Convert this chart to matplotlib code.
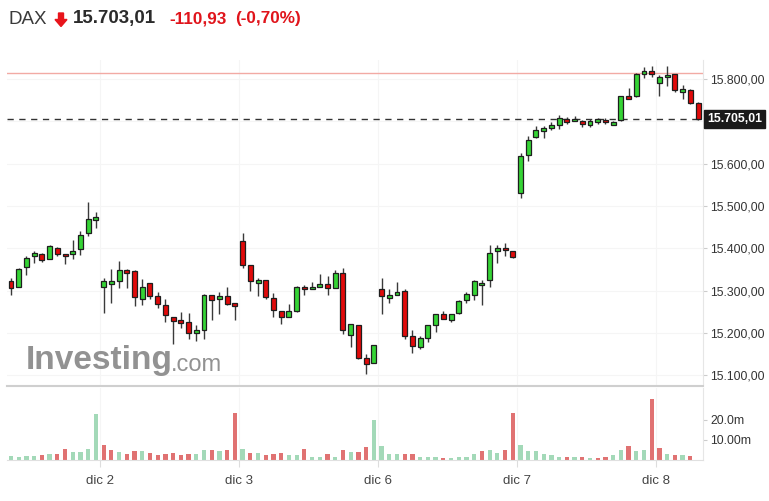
import matplotlib
matplotlib.use("Agg")
import matplotlib.pyplot as plt
from matplotlib.ticker import FuncFormatter, FixedLocator
from matplotlib.patches import Polygon

# ---------------- data (30-min candles, DAX) ----------------
opens = [15322, 15309, 15355, 15381, 15386, 15375, 15402, 15387, 15386, 15399, 15437, 15466,
         15310, 15315, 15322, 15349, 15346, 15281, 15319, 15287, 15267, 15237, 15231, 15227,
         15201, 15208, 15289, 15280, 15287, 15272,
         15417, 15360, 15319, 15325, 15284, 15251, 15238, 15251, 15310, 15304, 15309, 15316,
         15306, 15343, 15195, 15218, 15141, 15130,
         15303, 15282, 15289, 15299, 15194, 15167, 15188, 15220, 15245, 15232, 15247, 15277,
         15289, 15313, 15325, 15393, 15402, 15393,
         15531, 15620, 15662, 15677, 15685, 15691, 15706, 15700, 15701, 15691, 15698, 15703,
         15691, 15703, 15760, 15760, 15813, 15819,
         15791, 15804, 15811, 15769, 15774, 15744]
highs = [15329, 15353, 15381, 15393, 15390, 15409, 15403, 15387, 15421, 15440, 15509, 15486,
         15330, 15351, 15371, 15351, 15348, 15327, 15319, 15297, 15281, 15237, 15250, 15247,
         15218, 15293, 15291, 15297, 15309, 15272,
         15437, 15360, 15330, 15325, 15295, 15251, 15268, 15311, 15314, 15321, 15339, 15335,
         15348, 15354, 15222, 15218, 15150, 15171,
         15329, 15305, 15321, 15303, 15208, 15192, 15218, 15246, 15251, 15245, 15279, 15297,
         15325, 15326, 15407, 15407, 15413, 15395,
         15625, 15665, 15689, 15689, 15699, 15715, 15711, 15713, 15703, 15705, 15709, 15707,
         15700, 15760, 15779, 15815, 15829, 15831,
         15809, 15832, 15812, 15786, 15776, 15745]
lows = [15289, 15308, 15336, 15365, 15369, 15375, 15382, 15364, 15376, 15385, 15429, 15448,
        15248, 15272, 15306, 15306, 15263, 15266, 15280, 15259, 15225, 15175, 15211, 15187,
        15181, 15187, 15230, 15246, 15266, 15232,
        15354, 15299, 15288, 15281, 15237, 15222, 15238, 15250, 15289, 15304, 15309, 15291,
        15306, 15199, 15166, 15138, 15104, 15130,
        15246, 15272, 15289, 15186, 15152, 15162, 15180, 15203, 15233, 15227, 15246, 15270,
        15277, 15266, 15309, 15365, 15381, 15377,
        15518, 15607, 15660, 15660, 15680, 15682, 15695, 15700, 15686, 15687, 15694, 15695,
        15691, 15700, 15753, 15757, 15802, 15804,
        15761, 15783, 15770, 15754, 15741, 15703]
closes = [15306, 15352, 15378, 15388, 15372, 15405, 15387, 15381, 15393, 15432, 15470, 15473,
          15322, 15322, 15348, 15342, 15285, 15310, 15287, 15268, 15242, 15229, 15224, 15201,
          15207, 15290, 15277, 15287, 15269, 15265,
          15360, 15322, 15326, 15285, 15254, 15238, 15251, 15310, 15304, 15310, 15316, 15306,
          15343, 15207, 15222, 15142, 15126, 15171,
          15287, 15289, 15298, 15194, 15170, 15189, 15218, 15246, 15233, 15245, 15276, 15293,
          15322, 15319, 15388, 15401, 15396, 15380,
          15618, 15656, 15680, 15684, 15691, 15709, 15699, 15706, 15694, 15702, 15705, 15698,
          15698, 15760, 15753, 15813, 15819, 15812,
          15804, 15810, 15774, 15776, 15744, 15705]
volumes = [2.2, 1.4, 2.0, 2.0, 2.4, 2.9, 3.0, 5.4, 4.2, 3.9, 5.4, 22.8,
           7.6, 5.1, 4.2, 3.0, 4.4, 4.4, 3.7, 2.7, 3.0, 3.7, 2.5, 3.0, 3.0, 5.1, 5.1, 4.4, 5.1, 23.4,
           5.6, 3.7, 3.7, 2.5, 3.0, 3.7, 2.4, 2.4, 5.6, 1.7, 1.7, 3.0, 1.7, 5.1, 4.2, 4.2, 6.3, 19.8,
           6.8, 3.0, 3.0, 3.0, 3.0, 1.7, 1.7, 1.7, 1.2, 0.8, 1.7, 1.7, 3.0, 4.4, 5.1, 3.7, 5.1, 23.4,
           7.5, 4.4, 4.4, 3.0, 2.4, 1.7, 1.7, 1.7, 1.7, 0.8, 1.2, 1.7, 2.4, 5.1, 6.8, 4.4, 5.1, 30.5,
           6.1, 3.0, 2.4, 2.4, 1.9, 0.0]
vol_dir = list("GGGGRGRRGGGG"
               "RRGRRGRRRRRRGGRGRR"
               "GRGRRRGGRGGRGRGRRG"
               "GGGRRGGGRGGGGRGGRR"
               "GGGGGGRGRGRRGGRGGR"
               "RGRGRR")
day_labels = ["dic 2", "dic 3", "dic 6", "dic 7", "dic 8"]
day_starts = [12, 30, 48, 66, 84]
grid_levels = [15100, 15200, 15300, 15400, 15500, 15600, 15700, 15800]
price_ticks = [15100, 15200, 15300, 15400, 15500, 15600, 15800]  # 15.700 hidden by last-price box
volume_ticks = [10.0, 20.0]
volume_tick_labels = ["10.00m", "20.0m"]
last_price = 15705.01
session_high = 15814
title_name = "DAX"
title_price = "15.703,01"
title_change = "-110,93"
title_pct = "(-0,70%)"

# ---------------- styling ----------------
GREEN = "#35d435"
RED = "#e10a0a"
EDGE = "#1e1e1e"
VGREEN = "#a3d9b8"
VRED = "#e07272"
TXT = "#333333"
FONT = "Liberation Sans"

W, H = 769, 501
fig = plt.figure(figsize=(W / 100, H / 100), dpi=100)
fig.patch.set_facecolor("white")


def fx(px):
    return px / W


def fy(py):
    return 1 - py / H


x_left, x_right = 7, 703
ax = fig.add_axes([fx(x_left), fy(386), fx(x_right) - fx(x_left), fy(60) - fy(386)])
axv = fig.add_axes([fx(x_left), fy(460), fx(x_right) - fx(x_left), fy(388) - fy(460)])

n = len(opens)
xs = list(range(n))
xlim = (-0.52, 89.64)

# grid (very faint)
for p in grid_levels:
    ax.axhline(p, color="#f5f5f5", lw=0.8, zorder=0)
for d in day_starts:
    ax.axvline(d - 0.5, color="#f5f5f5", lw=0.8, zorder=0)

# wicks
ax.vlines(xs, lows, highs, color="#3a3a3a", lw=1.0, zorder=2)
# bodies
for i in xs:
    o, c = opens[i], closes[i]
    lo, hi = min(o, c), max(o, c)
    if hi - lo < 3:
        mid = (hi + lo) / 2
        lo, hi = mid - 1.5, mid + 1.5
    ax.bar(i, hi - lo, bottom=lo, width=0.64,
           color=GREEN if c >= o else RED, edgecolor=EDGE, linewidth=0.9, zorder=3)

# reference lines
ax.axhline(session_high, color="#f2aaa4", lw=1.0, zorder=1)
ax.axhline(last_price, color="#333333", lw=1.0, ls=(0, (4.5, 4)), zorder=1)

ax.set_xlim(*xlim)
ax.set_ylim(15075, 15845)
ax.yaxis.tick_right()


def eu(v, pos=None):
    s = f"{v:,.2f}"
    return s.replace(",", "X").replace(".", ",").replace("X", ".")


ax.yaxis.set_major_locator(FixedLocator(price_ticks))
ax.yaxis.set_major_formatter(FuncFormatter(eu))
ax.tick_params(axis="y", length=3, color="#cccccc", labelsize=8.8, labelcolor=TXT, pad=2)
for lab in ax.get_yticklabels():
    lab.set_fontfamily(FONT)
ax.set_xticks([])
for s in ["top", "left"]:
    ax.spines[s].set_visible(False)
ax.spines["right"].set_color("#e6e6e6")
ax.spines["bottom"].set_color("#cfcfcf")
ax.spines["bottom"].set_linewidth(1.5)

# last price label
ax.annotate(eu(last_price), xy=(1.0, last_price), xycoords=("axes fraction", "data"),
            xytext=(3, 0), textcoords="offset points", ha="left", va="center",
            fontsize=8.8, fontweight="bold", color="white", family=FONT,
            bbox=dict(boxstyle="square,pad=0.25", fc="#1a1a1a", ec="#1a1a1a"), zorder=10,
            annotation_clip=False)

# watermark
ax.text(0.027, 0.03, "Investing", transform=ax.transAxes, fontsize=24, fontweight="bold",
        color="#8c8c8c", family=FONT, ha="left", va="bottom", zorder=1, alpha=0.95)
ax.text(0.236, 0.03, ".com", transform=ax.transAxes, fontsize=17, color="#8c8c8c",
        family=FONT, ha="left", va="bottom", zorder=1, alpha=0.95)

# volume
vcols = [VGREEN if d == "G" else VRED for d in vol_dir]
axv.bar(xs, volumes, width=0.55, color=vcols, zorder=2)
axv.set_xlim(*xlim)
axv.set_ylim(0, 36)
axv.yaxis.tick_right()
axv.set_yticks(volume_ticks)
axv.set_yticklabels(volume_tick_labels, family=FONT)
axv.tick_params(axis="y", length=3, color="#cccccc", labelsize=8.8, labelcolor=TXT, pad=2)
axv.set_xticks([d - 0.5 for d in day_starts])
axv.set_xticklabels(day_labels, family=FONT)
axv.tick_params(axis="x", length=5, color="#dddddd", labelsize=9.5, labelcolor="#444444", pad=6)
for s in ["top", "left"]:
    axv.spines[s].set_visible(False)
axv.spines["right"].set_color("#e6e6e6")
axv.spines["bottom"].set_color("#e0e0e0")
for d in day_starts:
    axv.axvline(d - 0.5, color="#f5f5f5", lw=0.8, zorder=0)

# header
fig.text(fx(8), fy(19), title_name, fontsize=13.5, color="#3a3a3a", family=FONT,
         ha="left", va="center")
arrow = Polygon([[fx(58.5), fy(13)], [fx(63.5), fy(13)], [fx(63.5), fy(19.5)], [fx(67), fy(19.5)],
                 [fx(61), fy(26.5)], [fx(55), fy(19.5)], [fx(58.5), fy(19.5)]],
                closed=True, transform=fig.transFigure, color="#e8141b")
fig.add_artist(arrow)
fig.text(fx(73), fy(19), title_price, fontsize=13.5, fontweight="bold", color="#2b2b2b",
         family=FONT, ha="left", va="center")
fig.text(fx(169), fy(19), title_change, fontsize=12.3, fontweight="bold", color="#e0141b",
         family=FONT, ha="left", va="center")
fig.text(fx(235), fy(19), title_pct, fontsize=12.3, fontweight="bold", color="#e0141b",
         family=FONT, ha="left", va="center")

fig.savefig("out.png", dpi=100)
